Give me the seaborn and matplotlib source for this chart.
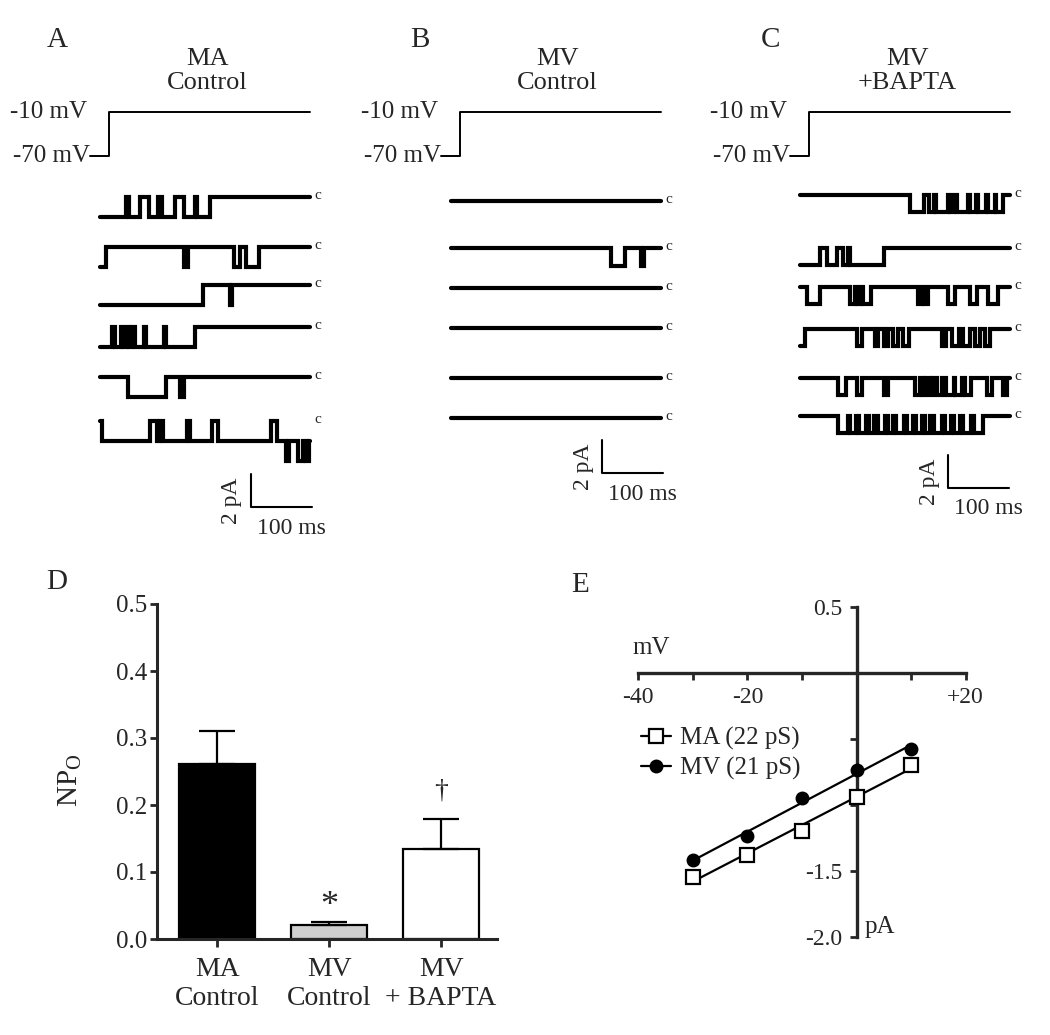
import numpy as np
import pandas as pd
import matplotlib
matplotlib.use("Agg")
import matplotlib.pyplot as plt
import seaborn as sns
from matplotlib.lines import Line2D
from matplotlib.ticker import FormatStrFormatter

sns.set_style("ticks")
plt.rcParams['font.family'] = ['Liberation Serif', 'DejaVu Serif']
plt.rcParams['mathtext.fontset'] = 'custom'
plt.rcParams['mathtext.rm'] = 'Liberation Serif'
plt.rcParams['mathtext.it'] = 'Liberation Serif:italic'

# ---------------- data ----------------
sweep_ms = 345
protocol_ms = [-16, 14, 14, 345]
protocol_mv = [-70, -70, -10, -10]

# single-channel openings per sweep: (start ms, end ms, number of open channels)
ma_control_sweeps = [
    [(0, 43, 1), (47, 65, 1), (80, 95, 1), (101, 123, 1), (137, 155, 1), (159, 180, 1)],
    [(0, 10, 1), (137, 144, 1), (219, 230, 1), (239, 261, 1)],
    [(0, 169, 1), (213, 217, 1)],
    [(0, 20, 1), (24, 34, 1), (38, 45, 1), (48, 53, 1), (57, 72, 1), (76, 105, 1), (109, 155, 1)],
    [(46, 109, 1), (131, 138, 1)],
    [(4, 82, 1), (93, 98, 1), (104, 142, 1), (148, 183, 1), (194, 281, 1), (290, 345, 1),
     (305, 310, 2), (325, 332, 2), (338, 343, 2)],
]
mv_control_sweeps = [
    [],
    [(262, 286, 1), (311, 316, 1)],
    [],
    [],
    [],
    [],
]
mv_bapta_sweeps = [
    [(180, 204, 1), (211, 220, 1), (223, 242, 1), (246, 253, 1), (257, 275, 1), (279, 289, 1),
     (292, 305, 1), (308, 319, 1), (322, 332, 1)],
    [(0, 33, 1), (44, 60, 1), (71, 78, 1), (82, 137, 1)],
    [(11, 33, 1), (82, 90, 1), (93, 100, 1), (104, 117, 1), (194, 200, 1), (203, 210, 1),
     (243, 254, 1), (279, 290, 1), (309, 325, 1)],
    [(0, 8, 1), (93, 101, 1), (123, 128, 1), (137, 145, 1), (153, 161, 1), (169, 178, 1),
     (232, 240, 1), (249, 260, 1), (268, 279, 1), (287, 295, 1), (303, 312, 1)],
    [(63, 76, 1), (93, 101, 1), (137, 145, 1), (188, 196, 1), (202, 207, 1), (213, 218, 1),
     (224, 232, 1), (240, 252, 1), (254, 265, 1), (270, 281, 1), (306, 314, 1), (333, 339, 1)],
    [(63, 78, 1), (82, 92, 1), (97, 108, 1), (113, 122, 1), (128, 140, 1), (145, 152, 1),
     (158, 170, 1), (176, 185, 1), (190, 200, 1), (205, 213, 1), (219, 232, 1), (238, 247, 1),
     (252, 262, 1), (268, 280, 1), (286, 300, 1)],
]
unitary_pa = [1.2, 1.1, 1.05]
panel_titles = ['MA\nControl', 'MV\nControl', 'MV\n+BAPTA']
panel_letters = ['A', 'B', 'C']

groups = ['MA\nControl', 'MV\nControl', 'MV\n+ BAPTA']
npo_mean = [0.261, 0.021, 0.134]
npo_sem = [0.050, 0.005, 0.045]

iv_mv = [-30, -20, -10, 0, 10]
iv_ma_pa = [-1.55, -1.38, -1.20, -0.94, -0.70]
iv_mv_pa = [-1.42, -1.24, -0.95, -0.74, -0.575]
iv_labels = ['MA (22 pS)', 'MV (21 pS)']

# ---------------- layout ----------------
W, H = 1050, 1035
fig = plt.figure(figsize=(W / 100, H / 100), dpi=100)


def px_axes(x0, y0, x1, y1):
    return fig.add_axes([x0 / W, 1 - y1 / H, (x1 - x0) / W, (y1 - y0) / H])


PX_PER_MS = 0.61
PX_PER_PA = 16.5
layout = [
    dict(left=100, base=[197, 247, 285, 327, 377, 421], bar=(251, 507), title_x=207, letter_x=57),
    dict(left=451, base=[201, 248, 288, 328, 378, 418], bar=(602, 473), title_x=557, letter_x=420),
    dict(left=800, base=[195, 248, 287, 329, 378, 416], bar=(948, 488), title_x=907, letter_x=770),
]
all_sweeps = [ma_control_sweeps, mv_control_sweeps, mv_bapta_sweeps]


def step_trace(openings, dur, amp):
    edges = sorted({0.0, float(dur)} | {float(s) for s, e, l in openings} | {float(e) for s, e, l in openings})
    xs, ys = [], []
    for a, b in zip(edges[:-1], edges[1:]):
        lev = 0
        for s, e, l in openings:
            if s <= a and b <= e:
                lev = max(lev, l)
        xs += [a, b]
        ys += [-amp * lev, -amp * lev]
    return xs, ys


for p, lay in enumerate(layout):
    left = lay['left']
    x0, x1 = left - 60, left + 270
    # protocol axes (mV)
    py0, py1 = 95, 172
    axp = px_axes(x0, py0, x1, py1)
    mv_per_px = 60 / 44.0
    axp.set_xlim((x0 - left) / PX_PER_MS, (x1 - left) / PX_PER_MS)
    axp.set_ylim(-10 - (py1 - 112) * mv_per_px, -10 + (112 - py0) * mv_per_px)
    axp.plot(protocol_ms, protocol_mv, color='k', lw=1.4)
    axp.text(-22, -10, '-10 mV', ha='right', va='center', fontsize=18)
    axp.text(-17, -70, '-70 mV', ha='right', va='center', fontsize=18)
    axp.axis('off')

    # traces axes (pA)
    ty0, ty1 = 175, 545
    b0 = lay['base'][0]
    axt = px_axes(x0, ty0, x1, ty1)
    axt.set_xlim((x0 - left) / PX_PER_MS, (x1 - left) / PX_PER_MS)
    axt.set_ylim(-(ty1 - b0) / PX_PER_PA, -(ty0 - b0) / PX_PER_PA)
    for i, sw in enumerate(all_sweeps[p]):
        off = -(lay['base'][i] - b0) / PX_PER_PA
        xs, ys = step_trace(sw, sweep_ms, unitary_pa[p])
        axt.plot(xs, np.array(ys) + off, color='k', lw=3.0, solid_joinstyle='miter')
        axt.text(357, off + 0.1, 'c', ha='center', va='center', fontsize=11)
    # scale bars
    cx, cy = lay['bar']
    tc = (cx - left) / PX_PER_MS
    vc = -(cy - b0) / PX_PER_PA
    axt.plot([tc, tc, tc + 100], [vc + 2, vc, vc], color='k', lw=1.5)
    axt.annotate('2 pA', xy=(tc, vc + 1), xytext=(-19, -10), textcoords='offset pixels',
                 rotation=90, ha='center', va='center', fontsize=17)
    axt.annotate('100 ms', xy=(tc + 50, vc), xytext=(10, -21), textcoords='offset pixels',
                 ha='center', va='center', fontsize=17)
    axt.axis('off')

    fig.text(lay['title_x'] / W, 1 - 71 / H, panel_titles[p], ha='center', va='center',
             fontsize=19, linespacing=1.15)
    fig.text(lay['letter_x'] / W, 1 - 40 / H, panel_letters[p], ha='center', va='center', fontsize=21)

# ---------------- panel D ----------------
axD = px_axes(156.7, 604, 497, 939)
df = pd.DataFrame({'group': groups, 'npo': npo_mean})
sns.barplot(data=df, x='group', y='npo', hue='group', palette=['black', '#cfcfcf', 'white'],
            edgecolor='black', linewidth=1.6, width=0.68, saturation=1, legend=False, ax=axD)
axD.errorbar([0, 1, 2], npo_mean, yerr=[np.zeros(3), npo_sem], fmt='none', ecolor='k',
             elinewidth=1.6, capsize=13, capthick=1.6, zorder=4)
axD.set_xlim(-0.54, 2.5)
axD.set_ylim(0, 0.5)
axD.set_yticks([0, 0.1, 0.2, 0.3, 0.4, 0.5])
axD.yaxis.set_major_formatter(FormatStrFormatter('%.1f'))
axD.set_xlabel('')
axD.set_ylabel('')
sns.despine(ax=axD)
for s in ['left', 'bottom']:
    axD.spines[s].set_linewidth(2.2)
axD.tick_params(axis='y', length=5, width=2, pad=2, labelsize=18)
axD.tick_params(axis='x', length=6, width=2, pad=7, labelsize=20)
axD.text(1, 0.036, '*', ha='center', va='baseline', fontsize=26)
axD.text(2, 0.211, '\u2020', ha='center', va='baseline', fontsize=20)
fig.text(70 / W, 1 - 780 / H, r'NP$_{\rm O}$', rotation=90, ha='center', va='center', fontsize=21)
fig.text(57 / W, 1 - 582 / H, 'D', ha='center', va='center', fontsize=21)

# ---------------- panel E ----------------
axE = px_axes(638.3, 606.7, 965.7, 936.7)
sns.regplot(x=np.array(iv_mv), y=np.array(iv_ma_pa), ci=None, scatter=False, truncate=True,
            color='k', line_kws={'lw': 1.6}, ax=axE)
sns.regplot(x=np.array(iv_mv), y=np.array(iv_mv_pa), ci=None, scatter=False, truncate=True,
            color='k', line_kws={'lw': 1.6}, ax=axE)
axE.plot(iv_mv, iv_ma_pa, ls='none', marker='s', ms=10, mfc='white', mec='k', mew=1.6, zorder=5)
axE.plot(iv_mv, iv_mv_pa, ls='none', marker='o', ms=9, mfc='k', mec='k', zorder=5)
axE.set_xlim(-40, 20)
axE.set_ylim(-2.0, 0.5)
axE.set_xlabel('')
axE.set_ylabel('')
axE.spines['left'].set_position(('data', 0))
axE.spines['bottom'].set_position(('data', 0))
axE.spines['top'].set_visible(False)
axE.spines['right'].set_visible(False)
for s in ['left', 'bottom']:
    axE.spines[s].set_linewidth(2.4)
axE.set_xticks([-40, -30, -20, -10, 0, 10, 20])
axE.set_xticklabels(['-40', '', '-20', '', '', '', '+20'])
axE.set_yticks([0.5, 0, -0.5, -1.0, -1.5, -2.0])
axE.set_yticklabels(['0.5', '', '', '', '-1.5', '-2.0'])
axE.tick_params(axis='x', length=5, width=2, pad=5, labelsize=17)
axE.tick_params(axis='y', length=5, width=2, pad=5, labelsize=17)
axE.patch.set_visible(False)
axE.text(-41, 0.19, 'mV', ha='left', va='center', fontsize=18)
axE.text(1.5, -1.93, 'pA', ha='left', va='center', fontsize=18)
h1 = Line2D([], [], color='k', lw=1.6, marker='s', ms=10, mfc='white', mec='k', mew=1.6)
h2 = Line2D([], [], color='k', lw=1.6, marker='o', ms=9, mfc='k', mec='k')
axE.legend(handles=[h1, h2], labels=iv_labels, loc='center left',
           bbox_to_anchor=(641 / W, 1 - 753.5 / H), bbox_transform=fig.transFigure,
           frameon=False, fontsize=18, handlelength=1.2, handletextpad=0.35,
           labelspacing=0.3, borderpad=0, borderaxespad=0)
fig.text(580 / W, 1 - 585 / H, 'E', ha='center', va='center', fontsize=21)

fig.savefig('out.png', dpi=100)
